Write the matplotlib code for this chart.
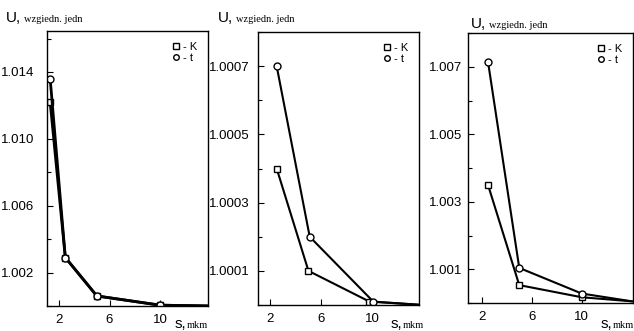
import numpy as np
import matplotlib
matplotlib.use("Agg")
from matplotlib import pyplot as plt
from matplotlib.lines import Line2D

# Datos (s en mkm, U en unidades relativas)
s1_K = [1.3, 2.5, 5, 10, 14]
u1_K = [1.0122, 1.0029, 1.0006, 1.00005, 1.0]
s1_t = [1.3, 2.5, 5, 10, 14]
u1_t = [1.0136, 1.0029, 1.0006, 1.00005, 1.0]

s2_K = [2.5, 5, 9.8, 14]
u2_K = [1.0004, 1.0001, 1.00001, 1.0]
s2_t = [2.5, 5.1, 10.1, 14]
u2_t = [1.0007, 1.0002, 1.00001, 1.0]

s3_K = [2.5, 5, 10, 14]
u3_K = [1.0035, 1.00053, 1.00017, 1.00005]
s3_t = [2.5, 5, 10, 14]
u3_t = [1.00715, 1.00104, 1.00028, 1.00005]

xticks = [2, 6, 10]
yticks1 = [1.002, 1.006, 1.010, 1.014]
yticks2 = [1.0001, 1.0003, 1.0005, 1.0007]
yticks3 = [1.001, 1.003, 1.005, 1.007]

fuente_ticks = ['Liberation Sans Narrow', 'Liberation Sans', 'DejaVu Sans']
fuente_serif = ['Liberation Serif', 'DejaVu Serif']

W, H = 634, 331
fig = plt.figure(figsize=(W / 100, H / 100), dpi=100)

# posiciones de los ejes en pixeles (izq, der, arriba, abajo) y separación de etiquetas y
cajas = [(47, 208, 31, 306, 9), (258, 419, 32, 305, 6), (468, 633, 33, 303, 4)]
paneles = [
    (s1_K, u1_K, s1_t, u1_t, yticks1, (1.0, 1.01645), '{:.3f}', 2.0, (1.05, 13.8)),
    (s2_K, u2_K, s2_t, u2_t, yticks2, (1.0, 1.0008), '{:.4f}', 1.5, (1.03, 13.7)),
    (s3_K, u3_K, s3_t, u3_t, yticks3, (1.00005, 1.0079), '{:.3f}', 1.5, (0.9, 14.1)),
]

for caja, (sK, uK, st, ut, yt, ylim, fmt, lw, xlim) in zip(cajas, paneles):
    l, r, t, b, pad_y = caja
    ax = fig.add_axes([l / W, 1 - b / H, (r - l) / W, (b - t) / H])
    mk = list(range(len(sK) - 1))
    ax.plot(sK, uK, color='black', lw=lw, marker='s', ms=5, mfc='white',
            mec='black', mew=1, markevery=mk, zorder=3)
    ax.plot(st, ut, color='black', lw=lw, marker='o', ms=5, mfc='white',
            mec='black', mew=1, markevery=mk, zorder=3)
    ax.set_xlim(*xlim)
    ax.set_ylim(*ylim)
    ax.set_xticks(xticks)
    ax.set_xticklabels([str(v) for v in xticks])
    ax.set_yticks(yt)
    ax.set_yticklabels([fmt.format(v) for v in yt])
    # ticks menores en y a la mitad
    paso = yt[1] - yt[0]
    ax.set_yticks([v + paso / 2 for v in yt] + [yt[0] - paso / 2], minor=True)
    ax.tick_params(direction='in', length=4, width=0.8)
    ax.tick_params(axis='y', pad=pad_y)
    ax.tick_params(axis='x', pad=6)
    ax.tick_params(which='minor', direction='in', length=3, width=0.8)
    for lab in ax.get_xticklabels() + ax.get_yticklabels():
        lab.set_family(fuente_ticks)
        lab.set_fontsize(9.5)
    for sp in ax.spines.values():
        sp.set_linewidth(1)
        sp.set_color('black')
        sp.set_zorder(5)
    # leyenda
    h = [Line2D([], [], ls='none', marker='s', ms=4, mfc='white', mec='black', mew=1),
         Line2D([], [], ls='none', marker='o', ms=4, mfc='white', mec='black', mew=1)]
    ax.legend(h, ['- K', '- t'], loc='upper right', frameon=False,
              handlelength=0.6, handletextpad=0.3, labelspacing=0.1,
              borderaxespad=0.6, prop={'family': fuente_ticks, 'size': 8})

# etiquetas de ejes
etiq_U = [(6, 22), (218, 22), (471, 28)]
etiq_s = [(175, 328), (391, 328), (601, 328)]
for (x, y) in etiq_U:
    fig.text(x / W, 1 - y / H, 'U,', fontsize=11, family=fuente_ticks)
    fig.text((x + 18) / W, 1 - y / H, 'wzgiedn. jedn', fontsize=7.5, family=fuente_serif)
for (x, y) in etiq_s:
    fig.text(x / W, 1 - y / H, 's,', fontsize=11, family=fuente_ticks)
    fig.text((x + 12) / W, 1 - y / H, 'mkm', fontsize=7.5, family=fuente_serif)

fig.savefig('out.png', dpi=100, facecolor='white')
